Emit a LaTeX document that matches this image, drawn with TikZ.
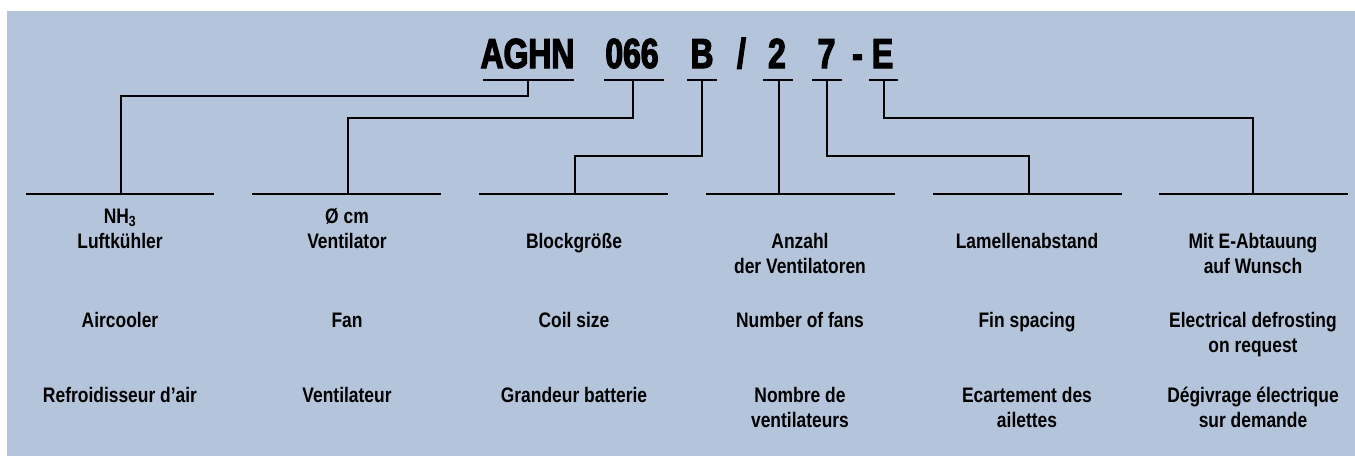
\documentclass[tikz,border=0pt]{standalone}
\usepackage{fontspec}
\setmainfont{Liberation Sans}[FakeStretch=0.83]
\newfontfamily\codefont{Liberation Sans Bold}[FakeStretch=0.76,FakeBold=3]
\definecolor{bgblue}{HTML}{B4C4DA}
\begin{document}
\begin{tikzpicture}[x=1pt,y=-1pt,line width=2.4pt,
  code/.style={font=\codefont\fontsize{41.9}{44}\selectfont,anchor=base,inner sep=0pt},
  lbl/.style={font=\bfseries\fontsize{21}{25}\selectfont,align=center,anchor=base,inner sep=0pt},
  bar/.style={line width=2.4pt},
  conn/.style={line width=2.4pt,line join=miter}]
\useasboundingbox (0,0) rectangle (1355,456);
\fill[bgblue] (7,11) rectangle (1355,456);

% code
\node[code] (cA) at (527.5,68) {AGHN};
\node[code] (c0) at (632,68) {066};
\node[code] (cB) at (702,68) {B};
\node[code] (cS) at (741.5,68) {/};
\node[code] (c2) at (777,68) {2};
\node[code] (c7) at (826.5,68) {7};
\node[code] (cD) at (857.5,68) {-};
\node[code] (cE) at (882.5,68) {E};

% underlines
\coordinate (uAl) at (483,80); \coordinate (uAr) at (574,80); \coordinate (uA) at (528,80);
\coordinate (u0l) at (604,80); \coordinate (u0r) at (664,80); \coordinate (u0) at (633,80);
\coordinate (uBl) at (687,80); \coordinate (uBr) at (717,80); \coordinate (uB) at (702,80);
\coordinate (u2l) at (763,80); \coordinate (u2r) at (793,80); \coordinate (u2) at (779,80);
\coordinate (u7l) at (812,80); \coordinate (u7r) at (842,80); \coordinate (u7) at (827,80);
\coordinate (uEl) at (869,80); \coordinate (uEr) at (898,80); \coordinate (uE) at (884,80);
\foreach \n in {A,0,B,2,7,E}{\draw[bar] (u\n l) -- (u\n r);}

% bars
\coordinate (b1l) at (26,194);   \coordinate (b1r) at (214,194);  \coordinate (j1) at (121,194);
\coordinate (b2l) at (252,194);  \coordinate (b2r) at (441,194);  \coordinate (j2) at (348,194);
\coordinate (b3l) at (479,194);  \coordinate (b3r) at (668,194);  \coordinate (j3) at (575,194);
\coordinate (b4l) at (706,194);  \coordinate (b4r) at (895,194);  \coordinate (j4) at (779,194);
\coordinate (b5l) at (933,194);  \coordinate (b5r) at (1122,194); \coordinate (j5) at (1029,194);
\coordinate (b6l) at (1159,194); \coordinate (b6r) at (1348,194); \coordinate (j6) at (1253,194);
\foreach \n in {1,...,6}{\draw[bar] (b\n l) -- (b\n r);}

% connectors
\draw[conn] (uA) -- ++(0,16) -| (j1);
\draw[conn] (u0) -- ++(0,38) -| (j2);
\draw[conn] (uB) -- ++(0,76) -| (j3);
\draw[conn] (u2) -- (j4);
\draw[conn] (u7) -- ++(0,76) -| (j5);
\draw[conn] (uE) -- ++(0,38) -| (j6);

% labels German (anchor=base is the baseline of the last line)
\node[lbl] (g1) at (120,248) {NH\textsubscript{3}\\Luftkühler};
\node[lbl] (g2) at (347,248) {Ø cm\\Ventilator};
\node[lbl] (g3) at (574,248) {Blockgröße};
\node[lbl] (g4) at (800,273) {Anzahl\\der Ventilatoren};
\node[lbl] (g5) at (1027,248) {Lamellenabstand};
\node[lbl] (g6) at (1253,273) {Mit E-Abtauung\\auf Wunsch};
% English
\node[lbl] (e1) at (120,327) {Aircooler};
\node[lbl] (e2) at (347,327) {Fan};
\node[lbl] (e3) at (574,327) {Coil size};
\node[lbl] (e4) at (800,327) {Number of fans};
\node[lbl] (e5) at (1027,327) {Fin spacing};
\node[lbl] (e6) at (1253,352) {Electrical defrosting\\on request};
% French
\node[lbl] (f1) at (120,402) {Refroidisseur d’air};
\node[lbl] (f2) at (347,402) {Ventilateur};
\node[lbl] (f3) at (574,402) {Grandeur batterie};
\node[lbl] (f4) at (800,427) {Nombre de\\ventilateurs};
\node[lbl] (f5) at (1027,427) {Ecartement des\\ailettes};
\node[lbl] (f6) at (1253,427) {Dégivrage électrique\\sur demande};
\end{tikzpicture}
\end{document}
